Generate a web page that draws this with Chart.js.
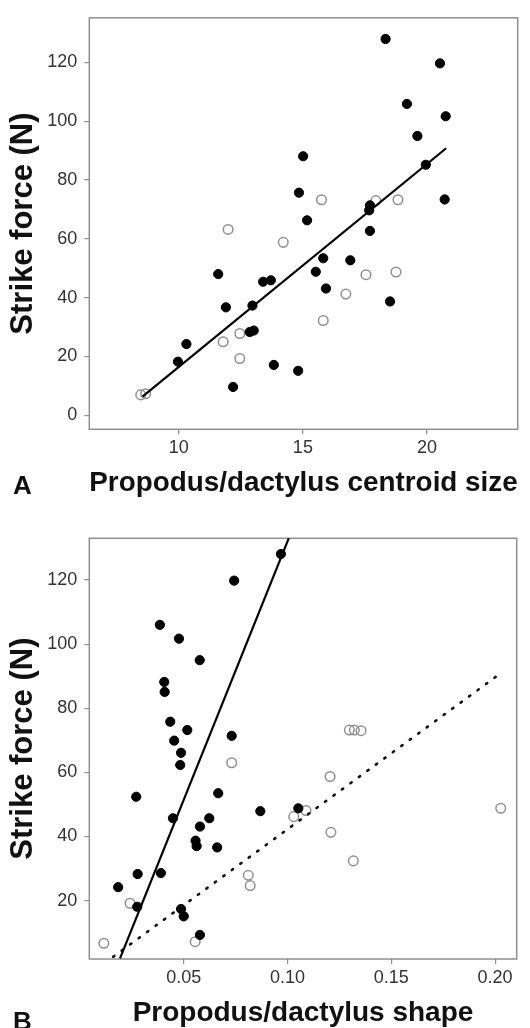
<!DOCTYPE html>
<html><head><meta charset="utf-8">
<script src="https://cdn.jsdelivr.net/npm/chart.js@4.4.0/dist/chart.umd.min.js"></script>
<style>
html,body{margin:0;padding:0;background:#fff;width:530px;height:1028px;overflow:hidden;}
canvas{position:absolute;left:0;}
#cA{top:0px}
#cB{top:520px}
</style></head><body>
<canvas id="cA" width="530" height="505"></canvas>
<canvas id="cB" width="530" height="508"></canvas>
<script>
// ---------- Panel A: centroid size ----------
const sizeFilledX = [18.33,20.52,19.19,20.75,19.61,19.95,15.01,14.84,15.17,20.71,17.70,17.67,17.70,11.59,11.90,9.97,10.31,12.19,12.97,12.86,13.02,13.40,13.71,13.83,14.81,15.52,15.82,15.93,16.91,18.51];
const sizeFilledY = [128.0,119.7,105.9,101.7,95.0,85.2,88.1,75.7,66.3,73.4,71.4,69.7,62.7,48.0,36.7,18.2,24.2,9.6,37.3,28.3,28.8,45.4,45.9,17.1,15.1,48.8,53.4,43.1,52.7,38.7];
const sizeOpenX = [15.75,17.94,18.83,11.99,11.79,12.46,12.46,14.21,15.82,16.73,17.54,18.75,8.47,8.67];
const sizeOpenY = [73.3,73.0,73.3,63.2,25.0,27.8,19.3,58.8,32.2,41.2,47.8,48.7,6.9,7.3];
const sizeFitSlopeIntercept = [6.91, -52.7];
const sizeFitRange = [8.54, 20.77];
const sizeTicksX = [10, 15, 20];
const sizeTicksY = [0, 20, 40, 60, 80, 100, 120];

// ---------- Panel B: shape ----------
const shapeFilledX = [0.0968,0.0743,0.0385,0.0477,0.0577,0.0406,0.0408,0.0435,0.0517,0.0731,0.0454,0.0487,0.0483,0.0271,0.0666,0.0869,0.1052,0.0448,0.0623,0.0578,0.0557,0.0562,0.0661,0.0184,0.0278,0.0390,0.0276,0.0487,0.0500,0.0578];
const shapeFilledY = [128.1,119.8,106.0,101.7,95.0,88.2,85.1,75.8,73.2,71.4,69.9,66.1,62.3,52.4,53.5,47.9,48.8,45.7,45.7,43.1,38.7,37.0,36.6,24.2,28.3,28.6,18.1,17.4,15.1,9.3];
const shapeOpenX = [0.0731,0.0241,0.0115,0.0555,0.0811,0.0820,0.1030,0.1089,0.1205,0.1209,0.1317,0.2027,0.1298,0.1322,0.1354];
const shapeOpenY = [63.0,19.2,6.7,7.2,27.9,24.7,46.2,48.1,58.7,41.3,32.4,48.8,73.2,73.2,73.0];
const shapeFilledFitSlopeIntercept = [1611.6, -29.1];
const shapeFilledFitRange = [0.0193, 0.1010];
const shapeOpenFitSlopeIntercept = [473.7, -5.1];
const shapeOpenFitRange = [0.016, 0.2003];
const shapeTicksX = [0.05, 0.10, 0.15, 0.20];
const shapeTicksY = [20, 40, 60, 80, 100, 120];

const yTitle = 'Strike force (N)';
const xTitleA = 'Propodus/dactylus centroid size';
const xTitleB = 'Propodus/dactylus shape';

Chart.defaults.font.family = "'Liberation Sans', Arial, Helvetica, sans-serif";
Chart.defaults.animation = false;

const zip = (xs, ys) => xs.map((x, i) => ({x: x, y: ys[i]}));
const fitLine = (si, range) => range.map(x => ({x: x, y: si[1] + si[0] * x}));

const boxPlugin = {
  id: 'box',
  beforeDatasetsDraw(chart) {
    const {ctx, chartArea: a} = chart;
    ctx.save();
    ctx.strokeStyle = '#8f8f8f';
    ctx.lineWidth = 1.5;
    ctx.strokeRect(a.left, a.top, a.right - a.left, a.bottom - a.top);
    ctx.restore();
  }
};
const letterPlugin = {
  id: 'panelLetter',
  afterDraw(chart, args, o) {
    const ctx = chart.ctx;
    ctx.save();
    ctx.font = "bold 26px 'Liberation Sans', Arial, sans-serif";
    ctx.fillStyle = '#111';
    ctx.textAlign = 'left';
    ctx.textBaseline = 'alphabetic';
    ctx.fillText(o.text, o.x, o.y);
    ctx.restore();
  }
};

function makeChart(id, cfg) {
  const tickStyle = {color: '#333', font: {size: 18}};
  return new Chart(document.getElementById(id), {
    type: 'scatter',
    data: {
      datasets: [
        ...cfg.lines,
        {type: 'scatter', data: cfg.filled, pointRadius: 4.6, pointBackgroundColor: '#000', pointBorderColor: '#000', pointBorderWidth: 1},
        {type: 'scatter', data: cfg.open, pointRadius: 4.8, pointBackgroundColor: 'rgba(0,0,0,0)', pointBorderColor: '#909090', pointBorderWidth: 1.5}
      ]
    },
    options: {
      responsive: false,
      devicePixelRatio: 1,
      layout: {padding: cfg.padding},
      plugins: {legend: {display: false}, tooltip: {enabled: false}, panelLetter: cfg.letter},
      scales: {
        x: {
          type: 'linear', min: cfg.xMin, max: cfg.xMax,
          afterBuildTicks: s => { s.ticks = cfg.xTicks.map(v => ({value: v})); },
          afterFit: s => { s.height = cfg.xHeight; },
          ticks: Object.assign({padding: 3, maxRotation: 0, callback: cfg.xFmt}, tickStyle),
          grid: {display: true, drawOnChartArea: false, drawTicks: true, tickLength: 5, color: '#8f8f8f', lineWidth: 1.2},
          border: {display: false},
          title: {display: true, text: cfg.xTitle, color: '#111', font: {size: 28, weight: 'bold', lineHeight: 1}, padding: {top: 0, bottom: cfg.xTitlePad}}
        },
        y: {
          type: 'linear', min: cfg.yMin, max: cfg.yMax,
          afterBuildTicks: s => { s.ticks = cfg.yTicks.map(v => ({value: v})); },
          afterFit: s => { s.width = 89.3; },
          ticks: Object.assign({padding: 7, callback: v => String(v)}, tickStyle),
          grid: {display: true, drawOnChartArea: false, drawTicks: true, tickLength: 5, color: '#8f8f8f', lineWidth: 1.2},
          border: {display: false},
          title: {display: true, text: yTitle, color: '#111', font: {size: 31, weight: 'bold', lineHeight: 1}, padding: {top: 7.5, bottom: 0}}
        }
      }
    },
    plugins: [boxPlugin, letterPlugin]
  });
}

makeChart('cA', {
  lines: [
    {type: 'line', data: fitLine(sizeFitSlopeIntercept, sizeFitRange), borderColor: '#000', borderWidth: 2.2, pointRadius: 0, fill: false}
  ],
  filled: zip(sizeFilledX, sizeFilledY),
  open: zip(sizeOpenX, sizeOpenY),
  padding: {top: 9.3, right: 12.3, left: 0, bottom: 0},
  xMin: 6.4, xMax: 23.65, yMin: -4.8, yMax: 135.2,
  xTicks: sizeTicksX, yTicks: sizeTicksY,
  xFmt: v => String(v),
  xHeight: 75.7, xTitle: xTitleA, xTitlePad: 7.5,
  letter: {text: 'A', x: 13, y: 494}
});

makeChart('cB', {
  lines: [
    {type: 'line', data: fitLine(shapeFilledFitSlopeIntercept, shapeFilledFitRange), borderColor: '#000', borderWidth: 2.2, pointRadius: 0, fill: false},
    {type: 'line', data: fitLine(shapeOpenFitSlopeIntercept, shapeOpenFitRange), borderColor: '#111', borderWidth: 2.6, borderDash: [1.5, 9], borderCapStyle: 'round', pointRadius: 0, fill: false}
  ],
  filled: zip(shapeFilledX, shapeFilledY),
  open: zip(shapeOpenX, shapeOpenY),
  padding: {top: 18.3, right: 13.3, left: 0, bottom: 0},
  xMin: 0.0045, xMax: 0.2104, yMin: 1.8, yMax: 133,
  xTicks: shapeTicksX, yTicks: shapeTicksY,
  xFmt: v => v.toFixed(2),
  xHeight: 69, xTitle: xTitleB, xTitlePad: 1,
  letter: {text: 'B', x: 13, y: 510}
});
</script>
</body></html>
